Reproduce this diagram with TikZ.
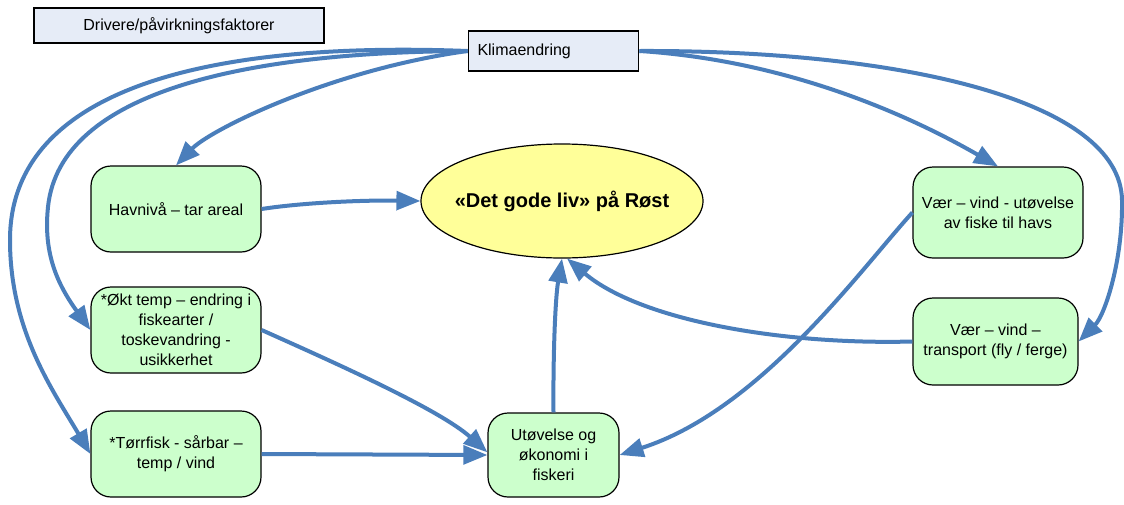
\documentclass[tikz,border=0pt]{standalone}
\usepackage{fontspec}
\setmainfont{Liberation Sans}
\usetikzlibrary{arrows.meta,shapes.geometric}

\definecolor{linkblue}{RGB}{74,126,187}
\definecolor{boxgreen}{RGB}{204,255,204}
\definecolor{boxblue}{RGB}{230,236,247}
\definecolor{goalyellow}{RGB}{255,255,153}

\tikzset{
  driverbox/.style={draw=black, line width=0.9pt, fill=boxblue, rectangle, inner sep=0pt},
  factor/.style={draw=black, line width=0.9pt, fill=boxgreen, rounded corners=15pt,
    minimum width=127.5pt, minimum height=64.5pt, align=center, inner sep=0pt},
  link/.style={draw=linkblue, line width=3pt, -{Triangle[length=18pt,width=14pt]}},
}

\begin{document}
\begin{tikzpicture}[x=0.75pt,y=-0.75pt, font=\fontsize{12}{15}\selectfont]
                \useasboundingbox (0,0) rectangle (1124,504);

                % Legend and driver
                \node[driverbox, minimum width=217.5pt, minimum height=26.25pt] (legend) at (179,25.5) {Drivere/påvirkningsfaktorer};
                \node[driverbox, minimum height=30pt, text width=114pt, inner xsep=7pt, align=left] (klima) at (553.5,51) {Klimaendring};

                % Goal
                \node[ellipse, draw=black, line width=0.9pt, fill=goalyellow, minimum width=211.5pt, minimum height=85.5pt,
                      inner xsep=-6pt, inner ysep=0pt, font=\fontsize{15}{18}\selectfont\bfseries] (goal) at (562,201) {«Det gode liv» på Røst};

                % Factors
                \node[factor] (havniva) at (176,209) {Havnivå – tar areal};
                \node[factor] (okt) at (176,330) {*Økt temp – endring i\\fiskearter /\\toskevandring -\\usikkerhet};
                \node[factor] (torrfisk) at (176,454) {*Tørrfisk - sårbar –\\temp / vind};
                \node[factor, minimum width=98.25pt, minimum height=63pt] (utovelse) at (553.5,455) {Utøvelse og\\økonomi i\\fiskeri};
                \node[factor, minimum height=68.25pt] (vaer1) at (998,212.5) {Vær – vind - utøvelse\\av fiske til havs};
                \node[factor, minimum width=123.75pt, minimum height=65.25pt] (vaer2) at (995.5,341.5) {Vær – vind –\\transport (fly / ferge)};

                % Climate links
                \draw[link] (klima.west) .. controls (330,70) and (210,130) .. (havniva.north);
                \draw[link] (klima.west) .. controls (250,52) and (60,90) .. (48,207) .. controls (43,254) and (58,285) .. (okt.west);
                \draw[link] (klima.west) .. controls (180,40) and (10,100) .. (10,240) .. controls (10,330) and (52,389) .. (torrfisk.west);
                \draw[link] (klima.east) .. controls (780,60) and (900,110) .. (vaer1.north);
                \draw[link] (klima.east) .. controls (900,50) and (1120,100) .. (1122,200) .. controls (1123,260) and (1105,315) .. (vaer2.east);

                % Effects
                \draw[link] (havniva.east) .. controls (300,203) and (360,200) .. (goal.west);
                \draw[link] (okt.east) .. controls (340,365) and (440,410) .. ([yshift=2pt]utovelse.west);
                \draw[link] (torrfisk.east) -- (utovelse.west);
                \draw[link] (utovelse.north) .. controls (553,360) and (555,300) .. (goal.south);
                \draw[link] (vaer2.west) .. controls (780,345) and (640,320) .. (goal.-85);
                \draw[link] (vaer1.west) .. controls (860,270) and (760,410) .. (utovelse.east);
            \end{tikzpicture}
\end{document}
